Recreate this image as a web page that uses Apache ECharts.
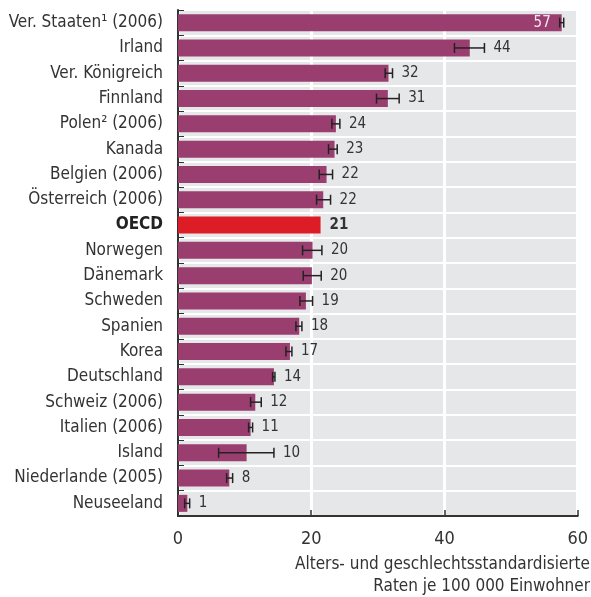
<!DOCTYPE html>
<html><head><meta charset="utf-8">
<script src="https://cdn.jsdelivr.net/npm/echarts@6/dist/echarts.min.js"></script>
<style>html,body{margin:0;padding:0;background:#fff}#c{width:591px;height:597px}</style>
</head><body><div id="c"></div>
<script>
var categories = ['Ver. Staaten¹ (2006)','Irland','Ver. Königreich','Finnland','Polen² (2006)','Kanada','Belgien (2006)','Österreich (2006)','OECD','Norwegen','Dänemark','Schweden','Spanien','Korea','Deutschland','Schweiz (2006)','Italien (2006)','Island','Niederlande (2005)','Neuseeland'];
var values = [57.6,43.8,31.6,31.5,23.7,23.5,22.3,21.8,21.4,20.2,20.1,19.2,18.2,16.8,14.4,11.6,10.9,10.3,7.7,1.4];
var errLow = [57.3,41.5,31.1,29.8,23.1,22.6,21.2,20.8,null,18.7,18.8,18.3,17.7,16.2,14.2,10.9,10.6,6.1,7.3,1.0];
var errHigh = [57.9,46.0,32.2,33.2,24.3,23.9,23.2,22.9,null,21.6,21.5,20.2,18.6,17.1,14.55,12.5,11.2,14.4,8.2,1.75];
var valueLabels = ['57','44','32','31','24','23','22','22','21','20','20','19','18','17','14','12','11','10','8','1'];
var xTicks = [0,20,40,60];

var FONT = "'Liberation Sans Narrow','DejaVu Sans Condensed',sans-serif";
var chart = echarts.init(document.getElementById('c'), null, {renderer:'canvas'});
var highlight = 'OECD';
var barData = values.map(function(v,i){
  return {value:v, itemStyle:{color: categories[i]===highlight ? '#dc1d26' : '#9a3e70'}};
});
var errData = values.map(function(v,i){ return [i, errLow[i], errHigh[i], v]; });

chart.setOption({
  animation:false,
  grid:{left:178,right:1,top:10,bottom:81,show:true,backgroundColor:'#e6e7e8',borderWidth:0},
  xAxis:{type:'value',min:xTicks[0],max:xTicks[xTicks.length-1],interval:20,
    axisLine:{show:true,onZero:false,lineStyle:{color:'#333',width:2}},
    axisTick:{show:true,inside:true,length:6,lineStyle:{color:'#333',width:1.5}},
    axisLabel:{color:'#333',fontFamily:FONT,fontSize:18,margin:14},
    splitLine:{show:true,lineStyle:{color:'#fff',width:3}}},
  yAxis:{type:'category',data:categories,inverse:true,
    axisLine:{show:true,lineStyle:{color:'#333',width:2}},
    axisTick:{show:true,inside:true,length:6,lineStyle:{color:'#333',width:1}},
    axisLabel:{color:'#333',fontFamily:FONT,fontSize:17,margin:15,
      formatter:function(v){ return v===highlight ? '{b|'+v+'}' : v; },
      rich:{b:{fontWeight:'bold',fontFamily:FONT,fontSize:17,color:'#222'}}},
    splitLine:{show:true,lineStyle:{color:'#fff',width:2}}},
  graphic:[
    {type:'text',right:1,top:556,style:{text:'Alters- und geschlechtsstandardisierte',fill:'#333',font:'17px '+FONT,textAlign:'right'}},
    {type:'text',right:1,top:578,style:{text:'Raten je 100 000 Einwohner',fill:'#333',font:'17px '+FONT,textAlign:'right'}}
  ],
  series:[
    {type:'bar',data:barData,barWidth:17,z:2},
    {type:'custom',data:errData,z:5,encode:{x:[1,2],y:0},
      renderItem:function(params,api){
        var idx=api.value(0), lo=api.value(1), hi=api.value(2), v=api.value(3);
        var children=[];
        var pv=api.coord([v,idx]);
        var y=pv[1];
        var rightEdge=pv[0];
        if(!isNaN(lo) && errLow[idx]!==null){
          var pl=api.coord([lo,idx]), ph=api.coord([hi,idx]);
          var st={stroke:'#222',lineWidth:1.5};
          children.push({type:'line',shape:{x1:pl[0],y1:y,x2:ph[0],y2:y},style:st});
          children.push({type:'line',shape:{x1:pl[0],y1:y-5,x2:pl[0],y2:y+5},style:st});
          children.push({type:'line',shape:{x1:ph[0],y1:y-5,x2:ph[0],y2:y+5},style:st});
          rightEdge=Math.max(rightEdge,ph[0]);
        }
        var bold = categories[idx]===highlight;
        var lx=rightEdge+9, align='left', col='#333';
        if(lx+20>params.coordSys.x+params.coordSys.width){
          lx=api.coord([errLow[idx]!==null?errLow[idx]:v,idx])[0]-9; align='right'; col='#f3e6ee';
        }
        children.push({type:'text',style:{x:lx,y:y,text:valueLabels[idx],fill:col,
          font:(bold?'bold ':'')+'15px '+FONT,textAlign:align,textVerticalAlign:'middle'}});
        return {type:'group',children:children};
      }}
  ]
});
</script></body></html>
